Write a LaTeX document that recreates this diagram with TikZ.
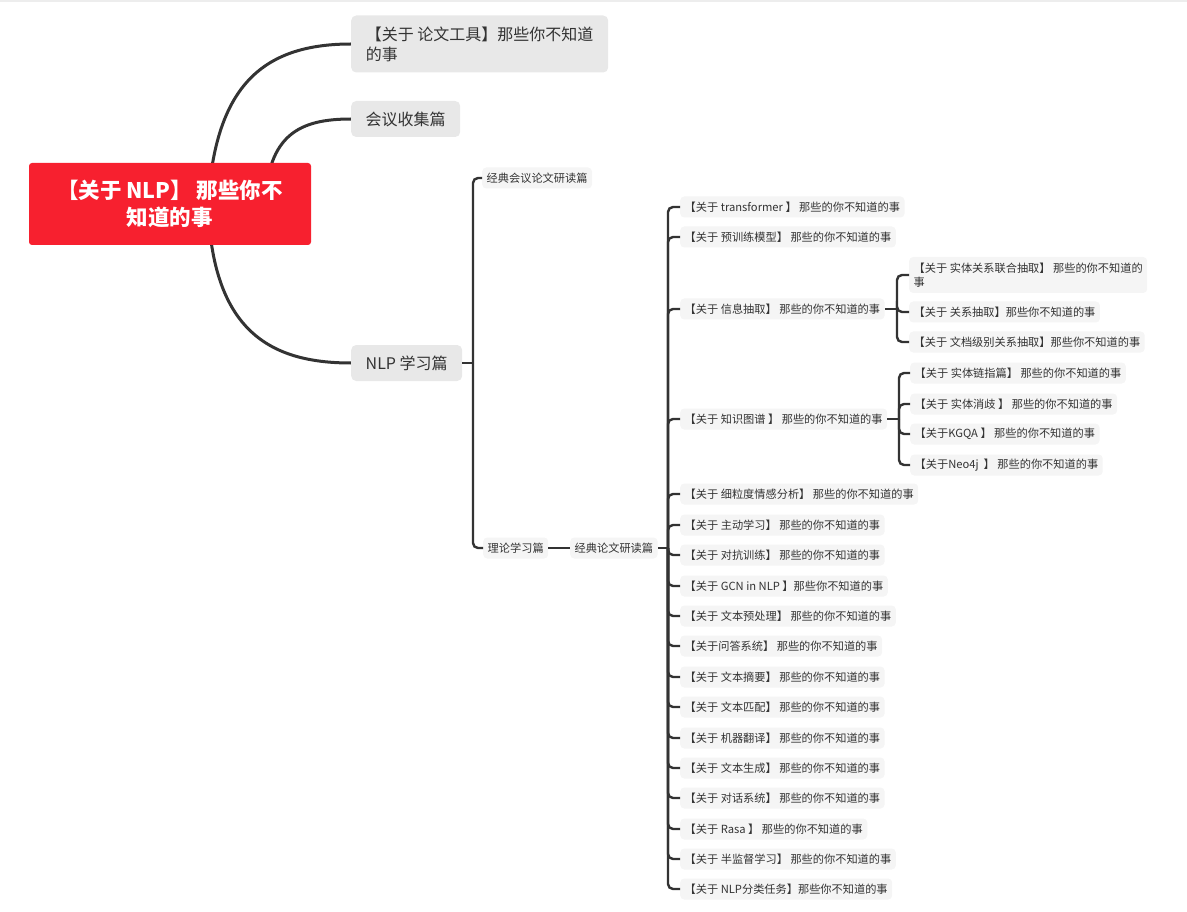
\documentclass[tikz,border=0pt]{standalone}
\usepackage{fontspec}
\setmainfont{Noto Sans CJK SC}
\usepackage{tikz}
\usetikzlibrary{positioning}
\usetikzlibrary{backgrounds}
\definecolor{rootred}{RGB}{247,32,47}
\definecolor{topicgray}{RGB}{232,232,232}
\definecolor{leafgray}{RGB}{245,245,245}
\definecolor{ink}{RGB}{51,51,51}
\tikzset{
	root/.style={fill=rootred,rounded corners=3,text=white,align=center,inner sep=0,
		minimum width=282,minimum height=82,font=\fontsize{21.5}{27}\selectfont\bfseries},
	topic/.style={fill=topicgray,rounded corners=5,text=ink,align=left,anchor=west,
		inner xsep=14.5,inner ysep=0,minimum height=36,font=\fontsize{16}{20}\selectfont},
	leaf/.style={fill=leafgray,rounded corners=4,text=ink,align=left,anchor=west,
		inner xsep=4.5,inner ysep=0,minimum height=21,font=\fontsize{11.2}{14}\selectfont},
	curve/.style={draw=ink,line width=3},
	branch/.style={draw=ink,line width=2.4,rounded corners=5},
}

\begin{document}
\begin{tikzpicture}[x=1pt,y=-1pt]
	\useasboundingbox (0,0) rectangle (1187,912);
	\draw[line width=2,draw=black!7] (0,1) -- (1187,1);
	% central topic and its three main branches
	\node[root] (root) at (170,204) {【关于 NLP】 那些你不\\知道的事};
	\node[topic,minimum width=257,minimum height=57] (tools) at (351,44) {【关于~论文工具】那些你不知道\\的事};
	\node[topic] (meeting) at (351,119) {会议收集篇};
	\node[topic] (nlp) at (351,363) {NLP 学习篇};
	\begin{scope}[on background layer]
		\draw[curve] ([xshift=38]root.center) .. controls +(7,-114) and +(-92,0) .. (tools.west);
		\draw[curve] ([xshift=95]root.center) .. controls +(3,-69) and +(-52,0) .. (meeting.west);
		\draw[curve] ([xshift=38]root.center) .. controls +(4,126) and +(-82,0) .. (nlp.west);
	\end{scope}
	% NLP 学习篇
	\node[leaf] (conf) at (482,178) {经典会议论文研读篇};
	\node[leaf] (theory) at (483,548) {理论学习篇};
	\node[leaf] (classic) at (570,548) {经典论文研读篇};
	\coordinate (jnlp) at (473,363);
	\draw[branch] (nlp.east) -- (jnlp);
	\draw[branch] (jnlp) |- (conf.west);
	\draw[branch] (jnlp) |- (theory.west);
	\draw[branch] (theory.east) -- (classic.west);
	% 经典论文研读篇
	\coordinate (jclassic) at (668,548);
	\draw[branch] (classic.east) -- (jclassic);
	\foreach \y/\name/\txt in {
		207/tf/【关于 transformer 】 那些的你不知道的事,
		237/pre/【关于 预训练模型】 那些的你不知道的事,
		309/ie/【关于 信息抽取】 那些的你不知道的事,
		419/kg/【关于 知识图谱 】 那些的你不知道的事,
		494/absa/【关于 细粒度情感分析】 那些的你不知道的事,
		525/al/【关于 主动学习】 那些的你不知道的事,
		555/adv/【关于 对抗训练】 那些的你不知道的事,
		586/gcn/【关于 GCN in NLP 】那些你不知道的事,
		616/prep/【关于 文本预处理】 那些的你不知道的事,
		646/qa/【关于问答系统】 那些的你不知道的事,
		677/summ/【关于 文本摘要】 那些的你不知道的事,
		707/match/【关于 文本匹配】 那些的你不知道的事,
		738/mt/【关于 机器翻译】 那些的你不知道的事,
		768/gen/【关于 文本生成】 那些的你不知道的事,
		798/dial/【关于 对话系统】 那些的你不知道的事,
		829/rasa/【关于 Rasa 】 那些的你不知道的事,
		859/semi/【关于 半监督学习】 那些的你不知道的事,
		889/cls/【关于 NLP分类任务】那些你不知道的事} {
		\node[leaf] (\name) at (680,\y) {\txt};
		\draw[branch] (jclassic) |- (\name.west);
	}
	% 信息抽取
	\coordinate (jie) at (897,309);
	\draw[branch] (ie.east) -- (jie);
	\node[leaf,minimum height=36] (joint) at (909,275) {【关于 实体关系联合抽取】 那些的你不知道的\\事};
	\node[leaf] (rel) at (909,312) {【关于 关系抽取】那些你不知道的事};
	\node[leaf] (docre) at (909,342) {【关于 文档级别关系抽取】那些你不知道的事};
	\foreach \name in {joint,rel,docre}
		\draw[branch] (jie) |- (\name.west);
	% 知识图谱
	\coordinate (jkg) at (899,419);
	\draw[branch] (kg.east) -- (jkg);
	\foreach \y/\name/\txt in {
		373/link/【关于 实体链指篇】 那些的你不知道的事,
		404/disamb/【关于 实体消歧 】 那些的你不知道的事,
		434/kgqa/【关于KGQA 】 那些的你不知道的事,
		465/neo/【关于Neo4j~ 】 那些的你不知道的事} {
		\node[leaf] (\name) at (910,\y) {\txt};
		\draw[branch] (jkg) |- (\name.west);
	}
\end{tikzpicture}
\end{document}
